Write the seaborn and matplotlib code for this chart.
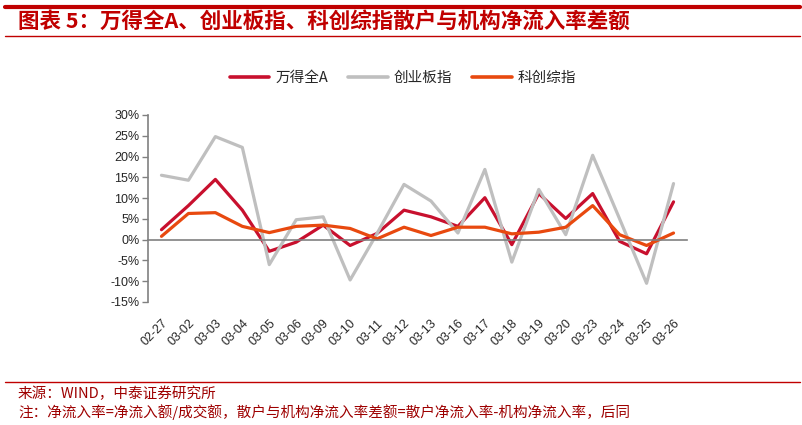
import numpy as np
import pandas as pd
import seaborn as sns
import matplotlib.pyplot as plt
from matplotlib.lines import Line2D

# data (%)
dates = ['02-27', '03-02', '03-03', '03-04', '03-05', '03-06', '03-09', '03-10',
         '03-11', '03-12', '03-13', '03-16', '03-17', '03-18', '03-19', '03-20',
         '03-23', '03-24', '03-25', '03-26']
wind_a = [2.4, 8.2, 14.5, 7.1, -2.8, -0.6, 3.5, -1.4, 1.5, 7.1,
          5.5, 3.2, 10.1, -1.2, 11.1, 5.1, 11.1, -0.4, -3.4, 9.1]
chinext = [15.5, 14.3, 24.8, 22.2, -6.0, 4.8, 5.5, -9.7, 1.5, 13.3,
           9.3, 1.6, 16.9, -5.4, 12.1, 1.2, 20.3, 5.0, -10.5, 13.5]
star = [0.8, 6.3, 6.5, 3.2, 1.7, 3.2, 3.5, 2.7, 0.2, 3.0,
        1.0, 3.0, 3.0, 1.4, 1.8, 3.0, 8.2, 1.2, -1.4, 1.6]
series = ['万得全A', '创业板指', '科创综指']
colors = ['#C8102E', '#BFBFBF', '#E8490F']

df = pd.DataFrame({'date': dates * 3,
                   'value': wind_a + chinext + star,
                   'series': np.repeat(series, len(dates))})

sns.set_style('white')
plt.rcParams['font.family'] = ['Liberation Sans', 'Noto Sans CJK SC', 'DejaVu Sans']
cjk = ['Noto Sans CJK SC', 'DejaVu Sans']
red = '#C00000'

fig = plt.figure(figsize=(8.03, 4.25), dpi=100)
ax = fig.add_axes([148 / 803, 1 - 302 / 425, 539 / 803, 187 / 425])

sns.lineplot(data=df, x='date', y='value', hue='series', hue_order=series,
             palette=colors, linewidth=2.3, sort=False, ax=ax, legend=False)

ax.set_xlim(-0.5, len(dates) - 0.5)
ax.set_ylim(-15, 30)
ax.set_yticks(range(-15, 31, 5))
ax.set_yticklabels([f'{v}%' for v in range(-15, 31, 5)])
ax.set_xlabel('')
ax.set_ylabel('')

for s in ['top', 'right']:
    ax.spines[s].set_visible(False)
ax.spines['left'].set_color('#808080')
ax.spines['bottom'].set_color('#808080')
ax.spines['bottom'].set_position(('data', 0))
ax.spines['bottom'].set_linewidth(1.2)
ax.spines['left'].set_linewidth(1.2)

# tick marks sit between categories on the zero line
ax.set_xticks(np.arange(-0.5, len(dates), 1))
ax.set_xticklabels([])
ax.tick_params(axis='x', direction='out', length=4, color='#808080', width=1)
ax.tick_params(axis='y', direction='out', length=4, color='#808080', width=1,
               labelsize=9, pad=2, left=True)

# date labels along the bottom of the plot area
sec = ax.secondary_xaxis(0)
sec.set_xticks(range(len(dates)))
sec.set_xticklabels(dates, rotation=45, ha='right', rotation_mode='anchor', fontsize=9)
sec.tick_params(length=0, pad=11)
sec.spines['bottom'].set_visible(False)

handles = [Line2D([], [], color=c, lw=2.6) for c in colors]
fig.legend(handles, series, loc='center', bbox_to_anchor=(403 / 803, 1 - 78 / 425),
           ncol=3, frameon=False, prop={'family': cjk, 'size': 10.5},
           handlelength=2.7, columnspacing=1.4, handletextpad=0.4)

# header and footer decoration
fig.add_artist(Line2D([5 / 803, 800 / 803], [1 - 7 / 425] * 2, color=red, lw=3))
fig.add_artist(Line2D([5 / 803, 800 / 803], [1 - 36 / 425] * 2, color=red, lw=1))
fig.add_artist(Line2D([5 / 803, 800 / 803], [1 - 382 / 425] * 2, color=red, lw=1))

fig.text(18 / 803, 1 - 21 / 425, '图表 5：万得全A、创业板指、科创综指散户与机构净流入率差额',
         family=cjk, fontsize=15.5, fontweight='bold', style='italic', color=red, va='center')
fig.text(18 / 803, 1 - 394 / 425, '来源：WIND，中泰证券研究所',
         family=cjk, fontsize=10.5, color='#9E0000', va='center')
fig.text(18 / 803, 1 - 412 / 425,
         '注：净流入率=净流入额/成交额，散户与机构净流入率差额=散户净流入率-机构净流入率，后同',
         family=cjk, fontsize=10.5, color='#9E0000', va='center')

fig.savefig('out.png', dpi=100)
